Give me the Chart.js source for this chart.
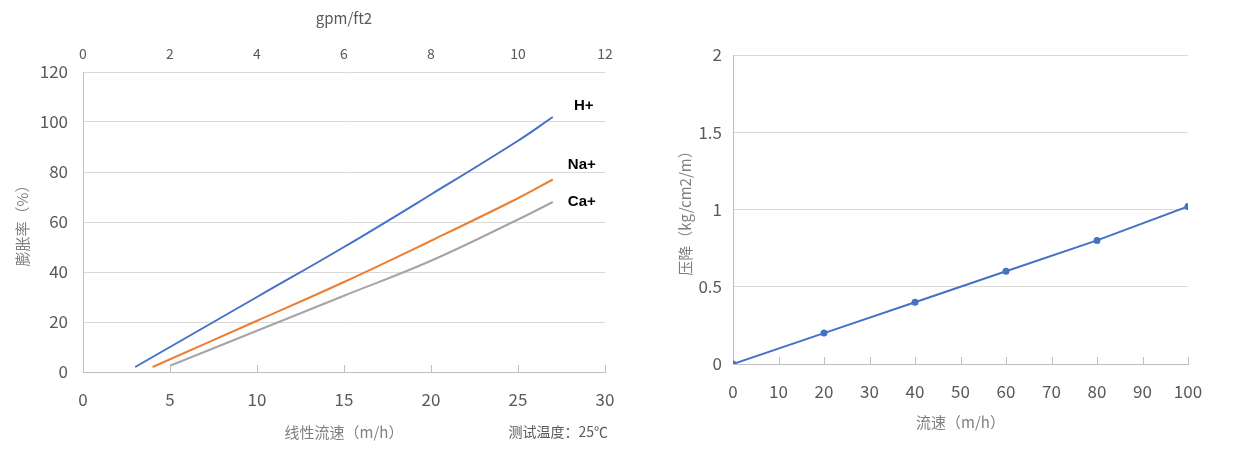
<!DOCTYPE html>
<html>
<head>
<meta charset="utf-8">
<script src="https://cdn.jsdelivr.net/npm/chart.js@4.4.0/dist/chart.umd.min.js"></script>
<style>
  html, body { margin: 0; padding: 0; background: #fff; }
  #wrap { position: relative; width: 1249px; height: 450px; }
  #leftBox { position: absolute; left: 0; top: 0; width: 640px; height: 450px; }
  #rightBox { position: absolute; left: 640px; top: 0; width: 609px; height: 450px; }
</style>
</head>
<body>
<div id="wrap">
  <div id="leftBox"><canvas id="swellChart" width="640" height="450"></canvas></div>
  <div id="rightBox"><canvas id="dropChart" width="609" height="450"></canvas></div>
</div>
<script>
// swelling rate vs linear flow (left chart)
const hFlow = [3, 10, 15, 20, 25, 27];
const hSwell = [2, 30, 50, 71, 92.5, 102];
const naFlow = [4, 10, 15, 20, 25, 27];
const naSwell = [2, 20.5, 36, 52.5, 69.5, 77];
const caFlow = [5, 10, 15, 20, 25, 27];
const caSwell = [2.5, 16.5, 30.5, 44.5, 61, 68];
const ionNames = ["H+", "Na+", "Ca+"];

// pressure drop vs flow (right chart)
const flowRate = [0, 20, 40, 60, 80, 100];
const pressureDrop = [0, 0.2, 0.4, 0.6, 0.8, 1.02];

const TEXT = "#595959";
const TITLE = "#7f7f7f";
const GRID = "#d9d9d9";
const AXIS = "#bfbfbf";

Chart.defaults.font.family = "'Noto Sans CJK SC', 'Noto Sans', sans-serif";
Chart.defaults.color = TEXT;

function pts(xs, ys) {
    return xs.map((x, i) => ({ x: x, y: ys[i] }));
}

// short tick marks pointing up into the plot from the x axis
const innerTicks = {
    id: "innerTicks",
    afterDraw(chart, args, opts) {
        const scale = chart.scales.x;
        const ctx = chart.ctx;
        ctx.save();
        ctx.strokeStyle = AXIS;
        ctx.lineWidth = 1;
        scale.ticks.forEach(t => {
            if (t.value === scale.min) return;
            const px = Math.round(scale.getPixelForValue(t.value)) + 0.5;
            ctx.beginPath();
            ctx.moveTo(px, scale.top);
            ctx.lineTo(px, scale.top - (opts.length || 7));
            ctx.stroke();
        });
        ctx.restore();
    }
};

// series names next to the end of each curve
const endLabels = {
    id: "endLabels",
    afterDatasetsDraw(chart, args, opts) {
        if (!opts.offsets) return;
        const ctx = chart.ctx;
        ctx.save();
        ctx.font = "bold 15px 'Liberation Sans', 'Noto Sans', sans-serif";
        ctx.fillStyle = "#000";
        ctx.textAlign = "center";
        ctx.textBaseline = "middle";
        chart.data.datasets.forEach((ds, i) => {
            const meta = chart.getDatasetMeta(i);
            const last = meta.data[meta.data.length - 1];
            const off = opts.offsets[i];
            ctx.fillText(ds.label, last.x + off[0], last.y + off[1]);
        });
        ctx.restore();
    }
};

const footNote = {
    id: "footNote",
    afterDraw(chart, args, opts) {
        if (!opts.text) return;
        const ctx = chart.ctx;
        ctx.save();
        ctx.font = "14px 'Noto Sans CJK SC', sans-serif";
        ctx.fillStyle = TEXT;
        ctx.textAlign = "right";
        ctx.textBaseline = "middle";
        ctx.fillText(opts.text, opts.x, opts.y);
        ctx.restore();
    }
};

const lineStyle = (color) => ({
    borderColor: color,
    backgroundColor: color,
    borderWidth: 2,
    pointRadius: 0,
    tension: 0.4,
    fill: false
});

new Chart(document.getElementById("swellChart"), {
    type: "line",
    data: {
        datasets: [
            { label: ionNames[0], data: pts(hFlow, hSwell), ...lineStyle("#4472C4") },
            { label: ionNames[1], data: pts(naFlow, naSwell), ...lineStyle("#ED7D31") },
            { label: ionNames[2], data: pts(caFlow, caSwell), ...lineStyle("#A5A5A5") }
        ]
    },
    options: {
        responsive: false,
        animation: false,
        devicePixelRatio: 1,
        layout: { padding: { left: 0, right: 35, top: 0, bottom: 0 } },
        plugins: {
            legend: { display: false },
            tooltip: { enabled: false },
            endLabels: { offsets: [[31, -11], [29, -15], [29, 0]] },
            footNote: { text: "测试温度：25℃", x: 608, y: 432 }
        },
        scales: {
            x: {
                type: "linear",
                position: "bottom",
                min: 0, max: 30,
                ticks: { stepSize: 5, font: { size: 17 }, color: TEXT, padding: 17, maxRotation: 0 },
                grid: { drawOnChartArea: false, drawTicks: false },
                border: { display: true, color: AXIS },
                title: { display: true, text: "线性流速（m/h）", color: TITLE, font: { size: 15 }, padding: { top: 9, bottom: 9 } },
                afterFit(s) { s.height = 78; }
            },
            x2: {
                type: "linear",
                position: "top",
                min: 0, max: 12,
                ticks: { stepSize: 2, font: { size: 14 }, color: TEXT, padding: 10, maxRotation: 0 },
                grid: { display: false, drawTicks: false },
                border: { display: false },
                title: { display: true, text: "gpm/ft2", color: TEXT, font: { size: 15 }, padding: { top: 9, bottom: 7 } },
                afterFit(s) { s.height = 72; }
            },
            y: {
                min: 0, max: 120,
                ticks: { stepSize: 20, font: { size: 17 }, color: TEXT, padding: 15 },
                grid: { color: GRID, drawTicks: false },
                border: { display: true, color: AXIS },
                title: { display: true, text: "膨胀率（%）", color: TITLE, font: { size: 15 }, padding: { top: 13, bottom: 13 } },
                afterFit(s) { s.width = 83; }
            }
        }
    },
    plugins: [innerTicks, endLabels, footNote]
});

new Chart(document.getElementById("dropChart"), {
    type: "line",
    data: {
        datasets: [{
            label: "压降",
            data: pts(flowRate, pressureDrop),
            borderColor: "#4472C4",
            backgroundColor: "#4472C4",
            borderWidth: 2,
            pointRadius: 3.5,
            pointBorderWidth: 0,
            pointBackgroundColor: "#4472C4",
            tension: 0
        }]
    },
    options: {
        responsive: false,
        animation: false,
        devicePixelRatio: 1,
        layout: { padding: { left: 0, right: 61, top: 55, bottom: 0 } },
        plugins: {
            legend: { display: false },
            tooltip: { enabled: false }
        },
        scales: {
            x: {
                type: "linear",
                min: 0, max: 100,
                ticks: { stepSize: 10, font: { size: 17 }, color: TEXT, padding: 17, maxRotation: 0 },
                grid: { drawOnChartArea: false, drawTicks: false },
                border: { display: true, color: AXIS },
                title: { display: true, text: "流速（m/h）", color: TITLE, font: { size: 15 }, padding: { top: 19, bottom: 19 } },
                afterFit(s) { s.height = 86; }
            },
            y: {
                min: 0, max: 2,
                ticks: {
                    stepSize: 0.5, font: { size: 17 }, color: TEXT, padding: 11,
                    callback: (v) => String(Number(v))
                },
                grid: { color: GRID, drawTicks: false },
                border: { display: true, color: AXIS },
                title: { display: true, text: "压降（kg/cm2/m）", color: TITLE, font: { size: 15 }, padding: { top: 36, bottom: 36 } },
                afterFit(s) { s.width = 93; }
            }
        }
    },
    plugins: [innerTicks]
});
</script>
</body>
</html>
